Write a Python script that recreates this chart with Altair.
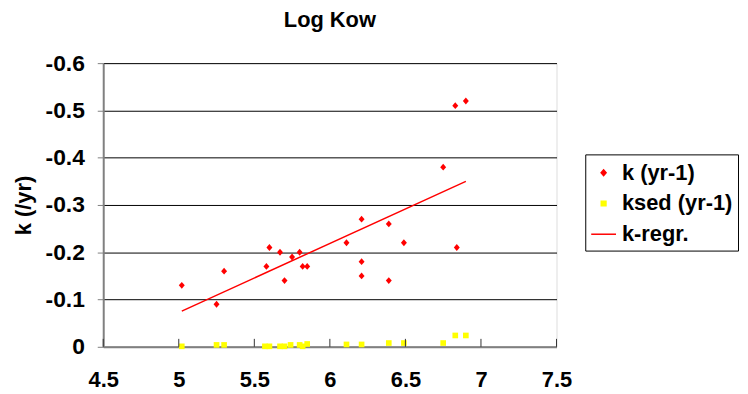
import altair as alt
import pandas as pd

# k (yr-1) points
k_x = [5.02, 5.25, 5.30, 5.58, 5.60, 5.67, 5.70, 5.75, 5.80, 5.82, 5.85,
       6.11, 6.21, 6.21, 6.21, 6.39, 6.39, 6.49, 6.75, 6.83, 6.84, 6.90]
k_y = [-0.13, -0.09, -0.16, -0.17, -0.21, -0.20, -0.14, -0.19, -0.20, -0.17, -0.17,
       -0.22, -0.27, -0.18, -0.15, -0.26, -0.14, -0.22, -0.38, -0.51, -0.21, -0.52]

# ksed (yr-1) points
ksed_x = [5.02, 5.25, 5.30, 5.57, 5.60, 5.67, 5.70, 5.74, 5.80, 5.82, 5.85,
          6.11, 6.21, 6.39, 6.49, 6.75, 6.83, 6.90]
ksed_y = [-0.001, -0.004, -0.004, -0.001, -0.001, -0.001, -0.001, -0.004, -0.004, -0.001, -0.006,
          -0.005, -0.005, -0.008, -0.008, -0.008, -0.024, -0.024]

# k-regr. line end points
reg_x = [5.02, 6.90]
reg_y = [-0.0755, -0.350]

series = ["k (yr-1)", "ksed (yr-1)", "k-regr."]
colors = ["#FF0000", "#FFFF00", "#FF0000"]
shapes = ["M-0.2,0L0,-0.23L0.2,0L0,0.23Z", "M-0.19,-0.19H0.19V0.19H-0.19Z", "stroke"]

x_ticks = [4.5, 5.0, 5.5, 6.0, 6.5, 7.0, 7.5]
y_ticks = [-0.6, -0.5, -0.4, -0.3, -0.2, -0.1, 0.0]

FONT = "Liberation Sans"
W, H = 457, 286

pts = pd.DataFrame({
    "x": k_x + ksed_x,
    "y": k_y + ksed_y,
    "s": [series[0]] * len(k_x) + [series[1]] * len(ksed_x),
})
reg = pd.DataFrame({"x": reg_x, "y": reg_y, "s": [series[2]] * len(reg_x)})
ticks = pd.DataFrame({"x": x_ticks})

xs = alt.Scale(domain=[4.5, 7.5], nice=False, zero=False)
ys = alt.Scale(domain=[-0.6, 0.0], nice=False, reverse=True)
cs = alt.Scale(domain=series, range=colors)
ss = alt.Scale(domain=series, range=shapes)

legend = alt.Legend(
    title=None, orient="none", legendX=486, legendY=92,
    strokeColor="#000000", fillColor="#FFFFFF", padding=5,
    labelFont=FONT, labelFontSize=22, labelFontWeight="bold", labelColor="#000000",
    rowPadding=6, labelOffset=5, symbolStrokeWidth=1.5, symbolSize=625,
)

x_axis = alt.Axis(
    values=x_ticks, ticks=False, grid=False, title=None, format=".1~f",
    labelFont=FONT, labelFontSize=22, labelFontWeight="bold", labelColor="#000000",
    labelPadding=23, domainColor="#808080", domainWidth=2, labelFlush=False,
)
y_axis = alt.Axis(
    values=y_ticks, title="k (/yr)",
    labelExpr="datum.value == 0 ? '0' : '-' + format(-datum.value, '.1f')",
    labelFont=FONT, labelFontSize=23, labelFontWeight="bold", labelColor="#000000",
    labelPadding=13, tickSize=6, tickColor="#808080",
    domainColor="#808080", domainWidth=2,
    grid=True, gridColor="#000000", gridWidth=1,
    titleFont=FONT, titleFontSize=22, titleFontWeight="bold", titleColor="#000000",
    titlePadding=10,
)

points = alt.Chart(pts).mark_point(filled=True, opacity=1, size=900).encode(
    x=alt.X("x:Q", scale=xs, axis=x_axis),
    y=alt.Y("y:Q", scale=ys, axis=y_axis),
    color=alt.Color("s:N", scale=cs, legend=legend),
    shape=alt.Shape("s:N", scale=ss, legend=legend),
)

line = alt.Chart(reg).mark_line(strokeWidth=1.5).encode(
    x=alt.X("x:Q", scale=xs),
    y=alt.Y("y:Q", scale=ys),
    color=alt.Color("s:N", scale=cs, legend=legend),
)

tick_marks = alt.Chart(ticks).mark_rule(color="#333333", strokeWidth=1).encode(
    x=alt.X("x:Q", scale=xs),
    y=alt.value(H - 8),
    y2=alt.value(H),
)

chart = alt.layer(points, line, tick_marks).properties(
    width=W, height=H,
    title=alt.TitleParams("Log Kow", font=FONT, fontSize=22, fontWeight="bold",
                          color="#000000", anchor="middle", offset=20),
    autosize=alt.AutoSizeParams(type="none"),
    padding={"left": 96, "top": 54, "right": 185, "bottom": 46},
).configure_view(stroke=None).configure(background="#FFFFFF")

chart.save("out.html", embed_options={"renderer": "svg", "actions": False})
